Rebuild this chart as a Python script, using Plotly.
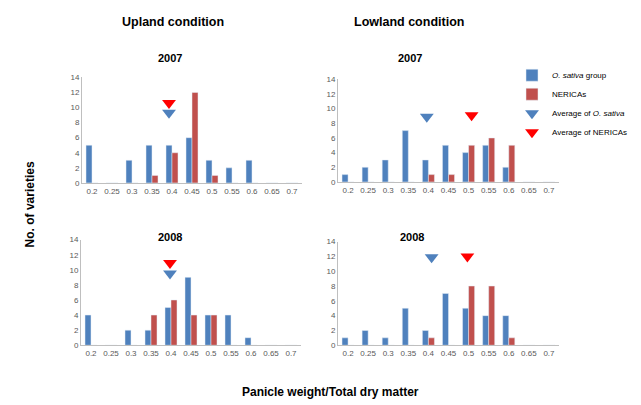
import plotly.graph_objects as go

# Panicle weight / total dry matter classes
classes = ["0.2", "0.25", "0.3", "0.35", "0.4", "0.45", "0.5", "0.55", "0.6", "0.65", "0.7"]

# Number of varieties per class
upland_2007_sativa = [5, 0, 3, 5, 5, 6, 3, 2, 3, 0, 0]
upland_2007_nerica = [0, 0, 0, 1, 4, 12, 1, 0, 0, 0, 0]
upland_2008_sativa = [4, 0, 2, 2, 5, 9, 4, 4, 1, 0, 0]
upland_2008_nerica = [0, 0, 0, 4, 6, 4, 4, 0, 0, 0, 0]
lowland_2007_sativa = [1, 2, 3, 7, 3, 5, 4, 5, 2, 0, 0]
lowland_2007_nerica = [0, 0, 0, 0, 1, 1, 5, 6, 5, 0, 0]
lowland_2008_sativa = [1, 2, 1, 5, 2, 7, 5, 4, 4, 0, 0]
lowland_2008_nerica = [0, 0, 0, 0, 1, 0, 8, 8, 1, 0, 0]

# Group averages (position on class axis, marker height)
avg_sativa_pos = {"u07": 3.85, "u08": 3.95, "l07": 3.92, "l08": 4.16}
avg_sativa_y = {"u07": 9.3, "u08": 9.5, "l07": 8.9, "l08": 11.9}
avg_nerica_pos = {"u07": 3.85, "u08": 3.95, "l07": 6.15, "l08": 5.94}
avg_nerica_y = {"u07": 10.6, "u08": 10.9, "l07": 9.1, "l08": 12.0}

BLUE = "#4F81BD"
RED_BAR = "#C0504D"
RED = "#FF0000"
TICK = "#595959"

panels = [
    ("u07", upland_2007_sativa, upland_2007_nerica, [82 / 641, 302 / 641], [1 - 183 / 405, 1 - 75 / 405]),
    ("l07", lowland_2007_sativa, lowland_2007_nerica, [338 / 641, 559 / 641], [1 - 182 / 405, 1 - 77 / 405]),
    ("u08", upland_2008_sativa, upland_2008_nerica, [81 / 641, 301 / 641], [1 - 349 / 405, 1 - 241 / 405]),
    ("l08", lowland_2008_sativa, lowland_2008_nerica, [338 / 641, 559 / 641], [1 - 349 / 405, 1 - 243 / 405]),
]

idx = list(range(len(classes)))
fig = go.Figure()
layout = {}
for k, (key, sat, ner, xd, yd) in enumerate(panels):
    sfx = "" if k == 0 else str(k + 1)
    xa, ya = "x" + sfx, "y" + sfx
    show = key == "l07"
    fig.add_trace(go.Bar(x=idx, y=sat, xaxis=xa, yaxis=ya, marker_color=BLUE,
                         name="<i>O. sativa</i> group", showlegend=show, legendrank=1,
                         offsetgroup="s"))
    fig.add_trace(go.Bar(x=idx, y=ner, xaxis=xa, yaxis=ya, marker_color=RED_BAR,
                         name="NERICAs", showlegend=show, legendrank=2, offsetgroup="n"))
    fig.add_trace(go.Scatter(x=[avg_sativa_pos[key]], y=[avg_sativa_y[key]], xaxis=xa, yaxis=ya,
                             mode="markers", marker=dict(symbol="triangle-down", size=12, color=BLUE),
                             name="Average of <i>O. sativa</i>", showlegend=show, legendrank=3))
    fig.add_trace(go.Scatter(x=[avg_nerica_pos[key]], y=[avg_nerica_y[key]], xaxis=xa, yaxis=ya,
                             mode="markers", marker=dict(symbol="triangle-down", size=12, color=RED),
                             name="Average of NERICAs", showlegend=show, legendrank=4))
    layout["xaxis" + sfx] = dict(domain=xd, range=[-0.5, 10.5], tickvals=idx, ticktext=classes,
                                 showline=True, linecolor="#BFBFBF", linewidth=1, ticks="",
                                 showgrid=False, zeroline=False, anchor="y" + sfx,
                                 tickfont=dict(size=8, color=TICK, family="Liberation Sans"))
    layout["yaxis" + sfx] = dict(domain=yd, range=[0, 14], tickvals=list(range(0, 15, 2)),
                                 showline=True, linecolor="#BFBFBF", linewidth=1, ticks="",
                                 showgrid=False, zeroline=False, anchor="x" + sfx,
                                 tickfont=dict(size=8, color=TICK, family="Liberation Sans"))

fig.update_layout(**layout)

ann = []
def text(x, y, s, size, **kw):
    ann.append(dict(x=x / 641, y=1 - y / 405, xref="paper", yref="paper", text=s, showarrow=False,
                    xanchor="center", yanchor="middle",
                    font=dict(size=size, color="black", family="Liberation Sans"), **kw))

text(173, 18, "<b>Upland condition</b>", 12.5)
text(409, 18, "<b>Lowland condition</b>", 12.5)
text(170, 55, "<b>2007</b>", 11)
text(410, 55, "<b>2007</b>", 11)
text(170, 238, "<b>2008</b>", 11)
text(412, 238, "<b>2008</b>", 11)
text(30, 205, "<b>No. of varieties</b>", 12, textangle=-90)
text(330, 397, "<b>Panicle weight/Total dry matter</b>", 12)

fig.update_layout(
    annotations=ann,
    width=641, height=405,
    margin=dict(l=0, r=0, t=0, b=0),
    paper_bgcolor="white", plot_bgcolor="white",
    barmode="group", bargap=0.4, bargroupgap=0,
    legend=dict(x=512 / 641, y=1 - 58 / 405, xanchor="left", yanchor="top",
                font=dict(size=8, color="black", family="Liberation Sans"),
                tracegroupgap=0, itemwidth=30, bgcolor="rgba(0,0,0,0)"),
    showlegend=True,
)

fig.write_html("out.html")
